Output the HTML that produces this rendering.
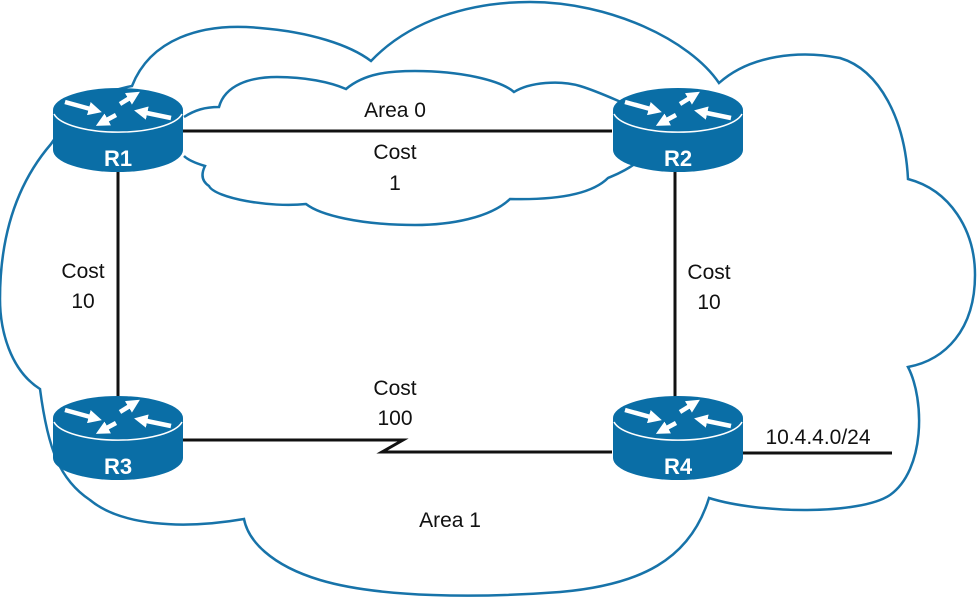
<!DOCTYPE html>
<html><head><meta charset="utf-8"><style>
html,body{margin:0;padding:0;background:#fff;}
svg{display:block;}
text{font-family:"Liberation Sans",Arial,sans-serif;}
</style></head><body>
<svg width="977" height="599" viewBox="0 0 977 599" xmlns="http://www.w3.org/2000/svg">
<defs>
<marker id="ah" markerWidth="3" markerHeight="3" refX="1.2" refY="1.5" orient="auto" markerUnits="strokeWidth">
<path d="M0,0 L3,1.5 L0,3 z" fill="#fff"/>
</marker>
<g id="rt">
<path d="M-65,0 L-65,40 A65,22 0 0 0 65,40 L65,0 Z" fill="#0a6ea6"/>
<ellipse cx="0" cy="0" rx="65" ry="22" fill="#0a6ea6"/>
<path d="M-64,4 A65,22 0 0 0 64,4" fill="none" stroke="#fff" stroke-width="1.5"/>
<g stroke="#fff" stroke-width="4.5" fill="none" marker-end="url(#ah)">
<line x1="-53" y1="-8" x2="-24" y2="0"/>
<line x1="2" y1="-6" x2="15" y2="-14"/>
<line x1="53" y1="8" x2="24" y2="2"/>
<line x1="-2" y1="5" x2="-15" y2="12"/>
</g>
</g>
</defs>
<path d="M51,144 C80,100 110,90 132,86 C150,40 200,22 260,28 C310,32 350,45 371,61 C410,20 470,2 530,2 C610,2 690,40 719,83 C750,55 800,50 840,58 C880,70 905,120 908,179 C950,190 975,230 975,275 C975,330 945,360 908,367 C925,400 925,470 890,495 C860,515 760,514 709,498 C690,560 640,585 560,592 C480,598 380,598 320,580 C270,565 248,540 244,519 C180,530 120,525 90,500 C60,480 48,450 40,389 C10,370 0,330 0,299 C0,230 20,180 51,144 Z" fill="none" stroke="#1773a9" stroke-width="2.5"/>
<path d="M184,117 C195,110 205,107 219,107 C225,85 250,77 277,77 C305,77 330,82 346,89 C365,73 390,71 415,71 C460,71 500,80 514,92 C530,82 560,80 580,86 C600,92 615,100 640,110 L640,160 C625,172 612,176 608,178 C590,196 550,200 510,199 C490,218 450,225 415,225 C360,225 320,215 306,204 C270,208 215,198 209,186 C200,180 202,172 205,166 C195,163 188,160 184,156" fill="#fff" stroke="#1773a9" stroke-width="2.5"/>
<g stroke="#111" stroke-width="3" fill="none">
<line x1="183" y1="131" x2="612" y2="131"/>
<line x1="118" y1="172" x2="118" y2="398"/>
<line x1="675" y1="172" x2="675" y2="398"/>
<polyline points="183,440 403,440 382,452 612,452"/>
<line x1="743" y1="453" x2="892" y2="453"/>
</g>
<use href="#rt" x="118" y="110"/>
<use href="#rt" x="678" y="110"/>
<use href="#rt" x="118" y="418"/>
<use href="#rt" x="678" y="418"/>
<g font-size="22" font-weight="bold" fill="#fff" text-anchor="middle">
<text x="118" y="166">R1</text>
<text x="678" y="166">R2</text>
<text x="118" y="474">R3</text>
<text x="678" y="474">R4</text>
</g>
<g font-size="21" fill="#111" text-anchor="middle">
<text x="395" y="117">Area 0</text>
<text x="395" y="159">Cost</text>
<text x="395" y="190">1</text>
<text x="83" y="278">Cost</text>
<text x="83" y="308">10</text>
<text x="709" y="279">Cost</text>
<text x="709" y="309">10</text>
<text x="395" y="395">Cost</text>
<text x="395" y="425">100</text>
<text x="450" y="527">Area 1</text>
<text x="818" y="444">10.4.4.0/24</text>
</g>
</svg>
</body></html>
